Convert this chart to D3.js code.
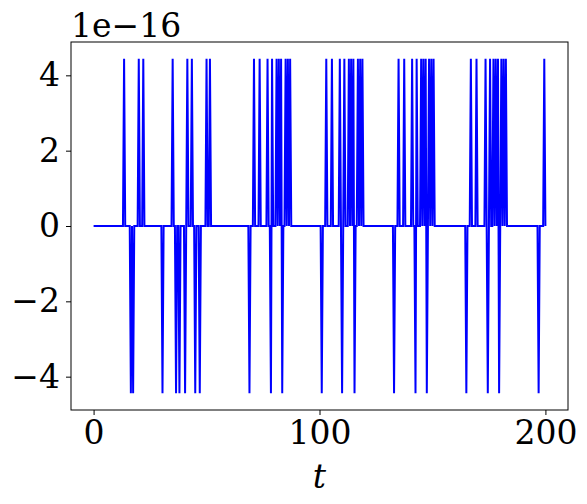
<!DOCTYPE html>
<html><head><meta charset="utf-8">
<script src="https://cdn.jsdelivr.net/npm/d3@7"></script>
<style>body{margin:0;background:#fff}</style></head>
<body><svg id="c" width="587" height="504"></svg>
<script>
const amp = 4.440892098500626e-16;
const tStep = 0.5, tMax = 200;
const posT = [13.5,20,22,35,41.5,43.5,50,51.5,71,73.5,77,79,
  81,82,83,85,86,87,
  103,105.5,109,111,
  113,114,115,117,118,119,
  135,137.5,141,143,
  145,146,147,148.5,149.5,150.5,
  167,169.5,173.5,175.5,
  177,178,179,180.5,181.5,182.5,
  199.5];
const negT = [16.5,17.5,30.5,36.5,38,40.5,45,47,69,78.5,83.5,101,110,115.5,133,142.5,147.5,165,174.5,179.5,197];
const xTicks = [0,100,200];
const yTicks = [-4,-2,0,2,4];

const tVals = d3.range(0, tMax + tStep/2, tStep);
const posSet = new Set(posT), negSet = new Set(negT);
const data = tVals.map(t => ({t, v: posSet.has(t) ? amp : negSet.has(t) ? -amp : 0}));

const L=71,R=568,T=42,B=410;
const svg = d3.select("#c");
const x = d3.scaleLinear().domain([-10,210]).range([L,R]);
const y = d3.scaleLinear().domain([-amp*1.1,amp*1.1]).range([B,T]);
const font = "DejaVu Serif";
const fs = 33;

svg.append("path").datum(data)
  .attr("d", d3.line().x(d=>x(d.t)).y(d=>y(d.v)))
  .attr("fill","none").attr("stroke","#0000ff").attr("stroke-width",2);

const xa = svg.append("g").attr("transform",`translate(0,${B})`)
  .call(d3.axisBottom(x).tickValues(xTicks).tickSize(5).tickPadding(6).tickFormat(d3.format("d")));
const ya = svg.append("g").attr("transform",`translate(${L},0)`)
  .call(d3.axisLeft(y).tickValues(yTicks.map(v=>v*1e-16)).tickSize(5).tickPadding(6)
    .tickFormat(d=>{const n=Math.round(d/1e-16);return n<0?"\u2212"+(-n):""+n;}));
[xa,ya].forEach(a=>{a.select(".domain").remove();
  a.selectAll("text").attr("font-family",font).attr("font-size",fs).attr("fill","#000");
  a.selectAll("line").attr("stroke","#000").attr("stroke-width",1);});
svg.append("rect").attr("x",L).attr("y",T).attr("width",R-L).attr("height",B-T)
  .attr("fill","none").attr("stroke","#000").attr("stroke-width",1);
svg.append("text").attr("x",L).attr("y",37).attr("font-family",font).attr("font-size",fs).text("1e\u221216");
svg.append("text").attr("x",(L+R)/2).attr("y",488).attr("text-anchor","middle")
  .attr("font-family",font).attr("font-style","italic").attr("font-size",fs).text("t");
</script></body></html>
